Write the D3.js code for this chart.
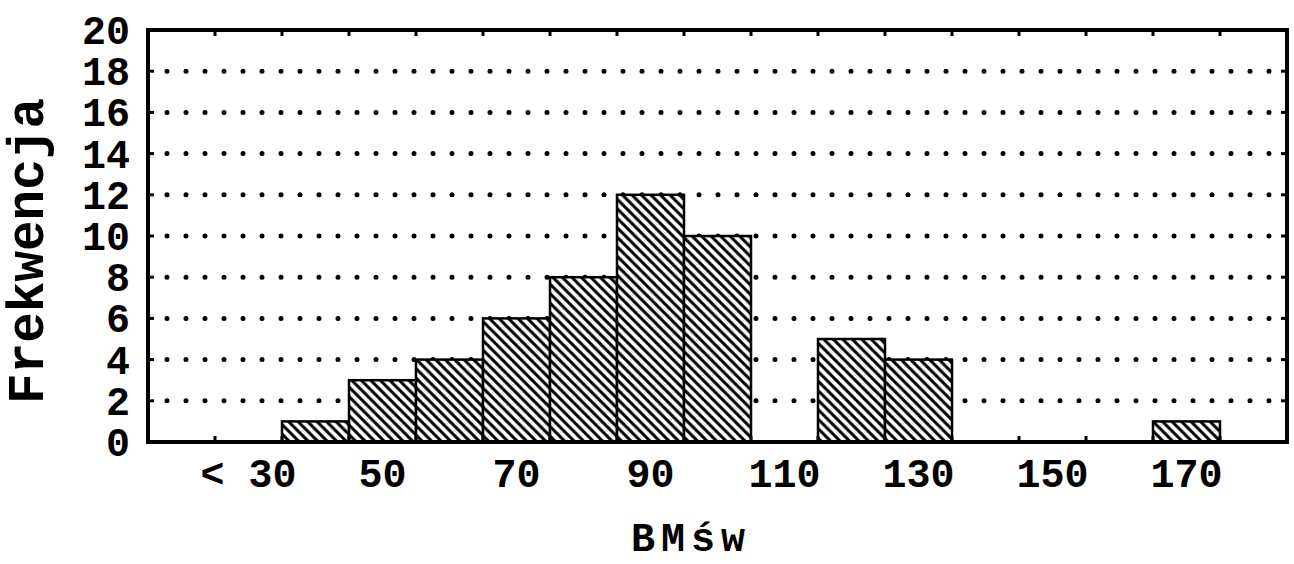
<!DOCTYPE html>
<html lang="pl">
<head>
<meta charset="utf-8">
<title>BMśw histogram</title>
<script src="https://d3js.org/d3.v7.min.js"></script>
<style>
    body { margin: 0; background: #fff; }
    svg { display: block; }
    text { font-family: 'Liberation Mono', 'Courier New', monospace; font-weight: bold; fill: #000; }
    .tick-label { font-size: 40px; }
    .axis-title { font-size: 51px; }
    .x-title { font-size: 40px; letter-spacing: 6px; }
    .grid line { stroke: #000; stroke-width: 5; stroke-linecap: round; stroke-dasharray: 0 19; }
    .bar { fill: url(#hatch); stroke: #000; stroke-width: 2.5; }
    .frame { fill: none; stroke: #000; stroke-width: 4; }
</style>
</head>
<body>
<svg id="chart" width="1294" height="564"></svg>
<script>
    // histogram bins (bin centres) and frequencies
    const bins = ['20', '30', '40', '50', '60', '70', '80', '90', '100', '110', '120', '130', '140', '150', '160', '170', '180'];
    const counts = [0, 0, 1, 3, 4, 6, 8, 12, 10, 0, 5, 4, 0, 0, 0, 1, 0];
    const xTickBins = ['30', '50', '70', '90', '110', '130', '150', '170'];
    const xTickLabels = ['< 30', '50', '70', '90', '110', '130', '150', '170'];
    const yTicks = [0, 2, 4, 6, 8, 10, 12, 14, 16, 18, 20];

    const svg = d3.select('#chart');
    const plotLeft = 148, plotRight = 1287, plotTop = 30, plotBottom = 442;

    const x = d3.scaleBand().domain(bins).range([plotLeft, plotRight]).padding(0);
    const y = d3.scaleLinear().domain([0, 20]).range([plotBottom, plotTop]);

    // hatch pattern (backslash lines)
    const defs = svg.append('defs');
    const pat = defs.append('pattern')
        .attr('id', 'hatch')
        .attr('patternUnits', 'userSpaceOnUse')
        .attr('width', 9.5)
        .attr('height', 9.5);
    pat.append('rect').attr('width', 9.5).attr('height', 9.5).attr('fill', '#fff');
    pat.append('path')
        .attr('d', 'M-2,-2 L11.5,11.5 M-2,7.5 L2,11.5 M7.5,-2 L11.5,2')
        .attr('stroke', '#000')
        .attr('stroke-width', 3);

    // dotted grid lines
    svg.append('g')
        .attr('class', 'grid')
        .selectAll('line')
        .data(yTicks.filter(d => d > 0 && d < 20))
        .join('line')
        .attr('x1', plotLeft + 19)
        .attr('x2', plotRight - 6)
        .attr('y1', d => y(d))
        .attr('y2', d => y(d));

    // bars
    svg.append('g')
        .selectAll('rect')
        .data(bins.map((b, i) => ({ bin: b, n: counts[i] })).filter(d => d.n > 0))
        .join('rect')
        .attr('class', 'bar')
        .attr('x', d => x(d.bin))
        .attr('y', d => y(d.n))
        .attr('width', x.bandwidth())
        .attr('height', d => y(0) - y(d.n));

    // inner ticks: y on both sides, x at bin edges top and bottom
    const tickG = svg.append('g').attr('stroke', '#000').attr('stroke-width', 3);
    yTicks.forEach(t => {
        tickG.append('line').attr('x1', plotLeft).attr('x2', plotLeft + 6).attr('y1', y(t)).attr('y2', y(t));
        tickG.append('line').attr('x1', plotRight).attr('x2', plotRight - 6).attr('y1', y(t)).attr('y2', y(t));
    });
    bins.slice(1).forEach(b => {
        tickG.append('line').attr('x1', x(b)).attr('x2', x(b)).attr('y1', plotTop).attr('y2', plotTop + 6);
        tickG.append('line').attr('x1', x(b)).attr('x2', x(b)).attr('y1', plotBottom).attr('y2', plotBottom - 6);
    });

    svg.append('rect')
        .attr('class', 'frame')
        .attr('x', plotLeft)
        .attr('y', plotTop)
        .attr('width', plotRight - plotLeft)
        .attr('height', plotBottom - plotTop);

    // y tick labels
    svg.append('g')
        .selectAll('text')
        .data(yTicks)
        .join('text')
        .attr('class', 'tick-label')
        .attr('x', plotLeft - 18)
        .attr('y', d => y(d))
        .attr('dy', '0.35em')
        .attr('text-anchor', 'end')
        .text(d => d);

    // x tick labels
    svg.append('g')
        .selectAll('text')
        .data(xTickBins)
        .join('text')
        .attr('class', 'tick-label')
        .attr('x', d => x(d) + x.bandwidth() / 2)
        .attr('y', 487)
        .attr('text-anchor', 'middle')
        .text((d, i) => xTickLabels[i]);

    // axis titles
    svg.append('text')
        .attr('class', 'x-title')
        .attr('x', 691)
        .attr('y', 551)
        .attr('text-anchor', 'middle')
        .text('BMśw');

    svg.append('text')
        .attr('class', 'axis-title')
        .attr('transform', 'translate(43, 251) rotate(-90)')
        .attr('text-anchor', 'middle')
        .text('Frekwencja');
</script>
</body>
</html>
